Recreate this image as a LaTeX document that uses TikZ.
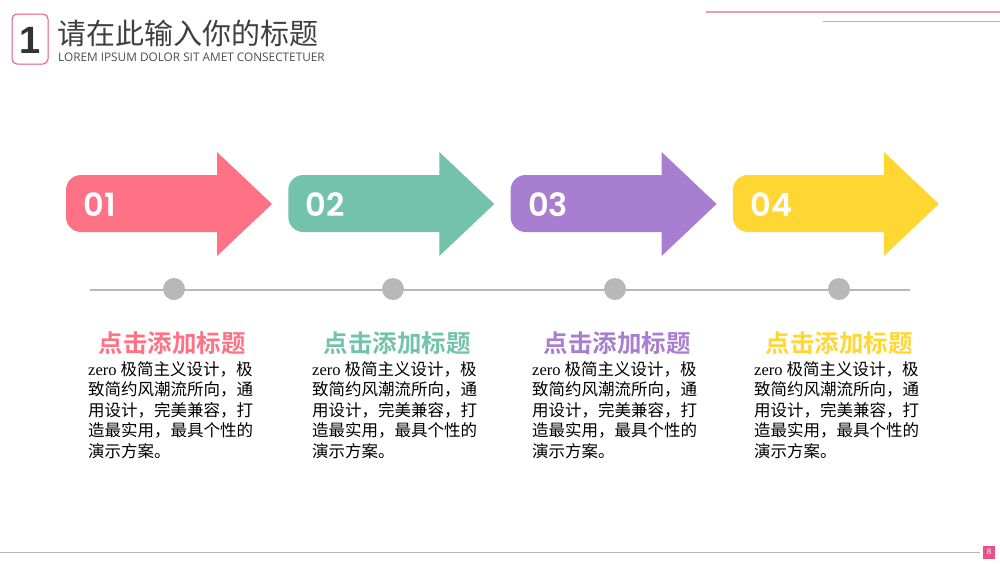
\documentclass[tikz,border=0pt]{standalone}
\usepackage{fontspec}
\setmainfont{Liberation Serif}
\newfontfamily\cjk{Noto Sans CJK SC}
\newfontfamily\cjkb{Noto Sans CJK SC Bold}
\newfontfamily\numf{Poppins SemiBold}
\newfontfamily\subf{Open Sans}
\newfontfamily\lsans{Liberation Sans}
\definecolor{cA}{HTML}{FF7286}
\definecolor{cB}{HTML}{72C3A9}
\definecolor{cC}{HTML}{A87FD0}
\definecolor{cD}{HTML}{FFD632}
\definecolor{gr}{HTML}{B8B8B8}
\definecolor{pk}{HTML}{E8508A}
\definecolor{tan}{HTML}{C8B090}
\begin{document}
\begin{tikzpicture}[x=1pt,y=-1pt,
  numtxt/.style={text=white,font=\numf\fontsize{32}{32}\selectfont,anchor=west},
  ttl/.style={font=\cjkb\fontsize{24.5}{26}\selectfont},
  body/.style={font=\fontsize{16.5}{20.5}\selectfont,align=left,anchor=north west,inner sep=0pt},
  dot/.style={circle,fill=gr,minimum size=22pt,inner sep=0pt}]
\useasboundingbox (0,0) rectangle (1000,563);
% header
\draw[pk,line width=1pt,rounded corners=5pt] (12,14) rectangle (48,64);
\node[font=\lsans\bfseries\fontsize{38}{38}\selectfont,text=black!80] (one) at (30,40) {1};
\node[anchor=west,font=\cjk\fontsize{29}{30}\selectfont,text=black!75,inner sep=0pt] (title) at (57,33) {请在此输入你的标题};
\node[anchor=west,font=\subf\fontsize{11.8}{12}\selectfont,text=black!70,inner sep=0pt] (sub) at (58,57) {LOREM IPSUM DOLOR SIT AMET CONSECTETUER};
\draw[pk!60,line width=1.2pt] (706,12) -- (1000,12);
\draw[tan,line width=1pt] (823,21) -- (1000,21);
% timeline
\draw[gr,line width=1.5pt] (90,290) -- (910,290);
\foreach \i/\c/\n/\cx in {0/cA/01/174,1/cB/02/393,2/cC/03/615,3/cD/04/839}{
  \begin{scope}[xshift=\i*222.3]
  \fill[\c,rounded corners=15pt] (66,175) rectangle (240,232);
  \fill[\c] (217,152) -- (272,204) -- (217,256) -- cycle;
  \node[numtxt] (n\i) at (80,205) {\n};
  \end{scope}
  \node[dot] (d\i) at (\cx,289) {};
}
\foreach \i/\c/\x in {0/cA/172,1/cB/397,2/cC/617,3/cD/839}{
  \node[ttl,text=\c] (t\i) at (\x,343) {点击添加标题};
}
\foreach \i/\x in {0/88,1/312,2/532,3/754}{
  \node[body] (b\i) at (\x,361) {zero {\cjk 极简主义设计，极}\\{\cjk 致简约风潮流所向，通}\\{\cjk 用设计，完美兼容，打}\\{\cjk 造最实用，最具个性的}\\{\cjk 演示方案。}};
}
% footer
\draw[gr,line width=0.8pt] (0,552) -- (980,552);
\node[fill=pk,text=white,font=\lsans\fontsize{8}{8}\selectfont,minimum width=12pt,minimum height=13pt,inner sep=0pt] (pg) at (989,552) {8};
\end{tikzpicture}
\end{document}
